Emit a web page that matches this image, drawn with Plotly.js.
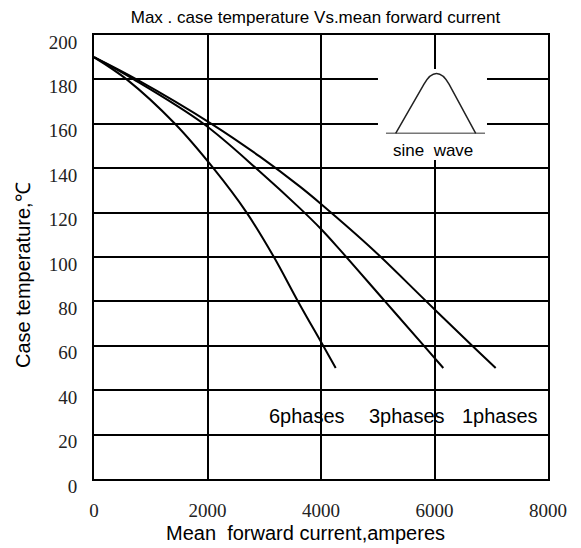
<!DOCTYPE html>
<html>
<head>
<meta charset="utf-8">
<script src="https://cdn.plot.ly/plotly-3.0.1.min.js"></script>
<style>html,body{margin:0;padding:0;background:#fff;}#chart{width:581px;height:548px;}</style>
</head>
<body>
<div id="chart"></div>
<script>
// Data
const current1ph = [0, 750, 2070, 2925, 3630, 4000, 4922, 5856, 6665, 7078];
const temp1ph    = [190, 180, 160, 145.2, 131.7, 123.9, 103.2, 80, 60, 50];
const current3ph = [0, 700, 1930, 2925, 3630, 4000, 4335, 5129, 5815, 6155];
const temp3ph    = [190, 180, 160, 138.4, 121.9, 112.6, 103.2, 80, 60, 50];
const current6ph = [0, 576, 1427, 2103, 2690, 3170, 3595, 4039, 4259];
const temp6ph    = [190, 180, 160, 140, 120, 100, 80, 60, 50];
const seriesNames = ['1phases', '3phases', '6phases'];
const labelX = [7154, 5507, 3753];
const xTicks = [0, 2000, 4000, 6000, 8000];
const yTicks = [0, 20, 40, 60, 80, 100, 120, 140, 160, 180, 200];

const lineStyle = {color: '#000', width: 2};
const traces = [
  {x: current1ph, y: temp1ph, name: seriesNames[0]},
  {x: current3ph, y: temp3ph, name: seriesNames[1]},
  {x: current6ph, y: temp6ph, name: seriesNames[2]}
].map(t => Object.assign(t, {type: 'scatter', mode: 'lines', line: Object.assign({shape: 'spline', smoothing: 1}, lineStyle), hoverinfo: 'skip'}));

const sansFont = 'Liberation Sans, Arial, sans-serif';
const serifFont = 'Liberation Serif, Times New Roman, serif';

const annotations = seriesNames.map((n, i) => ({
  x: labelX[i], y: 28.4, xref: 'x', yref: 'y', text: n, showarrow: false,
  font: {family: sansFont, size: 20, color: '#000'}, xanchor: 'center', yanchor: 'middle'
}));
annotations.push({x: 5974, y: 148.2, xref: 'x', yref: 'y', text: 'sine  wave', showarrow: false,
  font: {family: sansFont, size: 17, color: '#000'}, xanchor: 'center', yanchor: 'middle'});
// axis titles placed as annotations to match the reference offsets
annotations.push({x: 0.465, y: -0.122, xref: 'paper', yref: 'paper', text: 'Mean  forward current,amperes',
  showarrow: false, xanchor: 'center', yanchor: 'middle', font: {family: sansFont, size: 20, color: '#000'}});
annotations.push({x: -0.158, y: 0.46, xref: 'paper', yref: 'paper', text: 'Case temperature,℃', textangle: -90,
  showarrow: false, xanchor: 'center', yanchor: 'middle', font: {family: sansFont, size: 20, color: '#000'}});

const shapes = [
  {type: 'rect', xref: 'x', yref: 'y', x0: 5004, x1: 6925, y0: 143.7, y1: 184.7,
   fillcolor: '#fff', line: {width: 0}, layer: 'between'},
  {type: 'line', xref: 'x', yref: 'y', x0: 5145, x1: 6890, y0: 155.7, y1: 155.7,
   line: {color: '#777', width: 1.5}, layer: 'above'},
  {type: 'path', xref: 'x', yref: 'y',
   path: 'M 5316,155.7 L 5815,177.9 C 5956,184.3 6115,184.3 6256,177.9 L 6726,155.7',
   line: {color: '#222', width: 1.5}, layer: 'above'}
];

const layout = {
  width: 581, height: 548,
  margin: {l: 94, r: 33, t: 35, b: 69},
  paper_bgcolor: '#fff', plot_bgcolor: '#fff',
  showlegend: false,
  title: {text: 'Max . case temperature Vs.mean forward current', x: 0.543, xanchor: 'center', y: 0.968, yanchor: 'middle',
          font: {family: sansFont, size: 17, color: '#000'}},
  xaxis: {range: [0, 8000], tickvals: xTicks, ticktext: xTicks.map(String),
          showgrid: true, gridcolor: '#000', gridwidth: 2, zeroline: false,
          showline: true, mirror: true, linecolor: '#000', linewidth: 2,
          ticks: '', ticklabelstandoff: 13,
          tickfont: {family: serifFont, size: 19, color: '#222'}},
  yaxis: {range: [0, 200], tickvals: yTicks, ticktext: yTicks.map(String),
          showgrid: true, gridcolor: '#000', gridwidth: 2, zeroline: false,
          showline: true, mirror: true, linecolor: '#000', linewidth: 2,
          ticks: '', ticklabelstandoff: 11, ticklabelshift: 7,
          tickfont: {family: serifFont, size: 19, color: '#222'}},
  annotations: annotations,
  shapes: shapes
};

Plotly.newPlot('chart', traces, layout, {displayModeBar: false, staticPlot: true});
</script>
</body>
</html>
